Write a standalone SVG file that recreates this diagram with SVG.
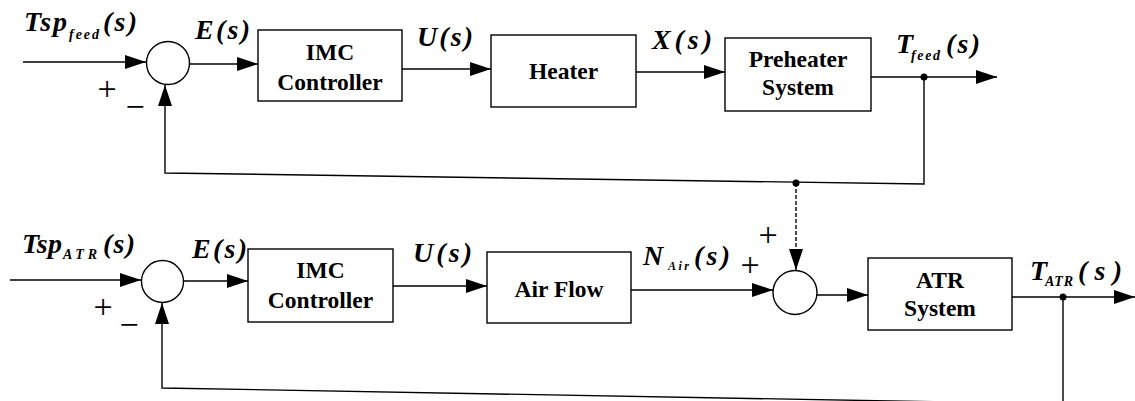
<svg xmlns="http://www.w3.org/2000/svg" width="1135" height="401" viewBox="0 0 1135 401">
<style>
.box{fill:#fff;stroke:#000;stroke-width:1.4}
.sum{fill:#fff;stroke:#000;stroke-width:1.4}
.ln{fill:none;stroke:#000;stroke-width:1.4}
.bt{font-family:'Liberation Serif','DejaVu Serif','Times New Roman',serif;font-weight:bold;font-size:23.5px;text-anchor:middle;fill:#000}
.m{font-family:'Liberation Serif','DejaVu Serif','Times New Roman',serif;font-weight:bold;font-style:italic;font-size:28px;fill:#000}
.sub{font-size:14px}
.sg{font-family:'Liberation Serif','DejaVu Serif','Times New Roman',serif;font-size:34px;font-weight:300;text-anchor:middle;fill:#000}
.dot{fill:#000}
</style>
<defs>
<marker id="ah" markerUnits="userSpaceOnUse" markerWidth="21" markerHeight="14" refX="21" refY="7" orient="auto">
<path d="M0,0 L21,7 L0,14 z" fill="#000"/>
</marker>
</defs>
<rect width="1135" height="401" fill="#fff"/>

<g id="connectors">
<line class="ln" x1="23" y1="62" x2="146" y2="62" marker-end="url(#ah)"/>
<line class="ln" x1="190" y1="64" x2="258" y2="64" marker-end="url(#ah)"/>
<line class="ln" x1="402" y1="69" x2="491" y2="69" marker-end="url(#ah)"/>
<line class="ln" x1="636" y1="72" x2="725" y2="72" marker-end="url(#ah)"/>
<line class="ln" x1="871" y1="77" x2="997" y2="77" marker-end="url(#ah)"/>
<polyline class="ln" points="924,77 924,184 165,173 165,85" marker-end="url(#ah)"/>
<line class="ln" x1="796" y1="183" x2="796" y2="270" stroke-dasharray="4 2" marker-end="url(#ah)"/>
<line class="ln" x1="10" y1="280" x2="141" y2="280" marker-end="url(#ah)"/>
<line class="ln" x1="183" y1="281" x2="248" y2="281" marker-end="url(#ah)"/>
<line class="ln" x1="393" y1="286" x2="487" y2="286" marker-end="url(#ah)"/>
<line class="ln" x1="631" y1="290" x2="773" y2="290" marker-end="url(#ah)"/>
<line class="ln" x1="817" y1="295" x2="868" y2="295" marker-end="url(#ah)"/>
<line class="ln" x1="1012" y1="297" x2="1135" y2="297" marker-end="url(#ah)"/>
<polyline class="ln" points="1063,297 1063,404 162,388 162,303" marker-end="url(#ah)"/>
<circle class="dot" cx="924" cy="77" r="3.5"/>
<circle class="dot" cx="796" cy="183" r="3.5"/>
<circle class="dot" cx="1063" cy="297" r="3.5"/>
</g>

<g id="sum1"><circle class="sum" cx="168" cy="63" r="21.5"/></g>
<g id="imc1"><rect class="box" x="258" y="30" width="144" height="71"/>
<text class="bt" x="330" y="60">IMC</text><text class="bt" x="330" y="90">Controller</text></g>
<g id="heater"><rect class="box" x="491" y="35" width="145" height="72"/>
<text class="bt" x="563.5" y="79">Heater</text></g>
<g id="preheater"><rect class="box" x="725" y="38" width="146" height="73"/>
<text class="bt" x="798" y="67">Preheater</text><text class="bt" x="798" y="95">System</text></g>

<g id="sum2"><circle class="sum" cx="162.5" cy="281.5" r="21"/></g>
<g id="imc2"><rect class="box" x="248" y="249" width="145" height="73"/>
<text class="bt" x="320.5" y="278">IMC</text><text class="bt" x="320.5" y="308">Controller</text></g>
<g id="airflow"><rect class="box" x="487" y="252" width="144" height="71"/>
<text class="bt" x="559" y="297">Air Flow</text></g>
<g id="sum3"><circle class="sum" cx="795" cy="292.5" r="22"/></g>
<g id="atr"><rect class="box" x="868" y="258" width="144" height="72"/>
<text class="bt" x="940" y="288">ATR</text><text class="bt" x="940" y="316">System</text></g>

<g id="labels">
<text class="m" x="24" y="31" textLength="43" lengthAdjust="spacing">Tsp</text>
<text class="m sub" x="69" y="39" textLength="30" lengthAdjust="spacing">feed</text>
<text class="m" x="103" y="31" textLength="34" lengthAdjust="spacing">(s)</text>
<text class="m" x="195" y="39" textLength="55" lengthAdjust="spacing">E(s)</text>
<text class="m" x="417" y="46" textLength="56" lengthAdjust="spacing">U(s)</text>
<text class="m" x="652" y="49" textLength="60" lengthAdjust="spacing">X(s)</text>
<text class="m" x="896" y="53">T</text>
<text class="m sub" x="911" y="60" textLength="29" lengthAdjust="spacing">feed</text>
<text class="m" x="946" y="53" textLength="34" lengthAdjust="spacing">(s)</text>

<text class="m" x="22" y="253" textLength="40" lengthAdjust="spacing">Tsp</text>
<text class="m sub" x="63" y="259" textLength="34" lengthAdjust="spacing">ATR</text>
<text class="m" x="103" y="253" textLength="32" lengthAdjust="spacing">(s)</text>
<text class="m" x="192" y="258" textLength="55" lengthAdjust="spacing">E(s)</text>
<text class="m" x="413" y="262" textLength="59" lengthAdjust="spacing">U(s)</text>
<text class="m" x="643" y="265">N</text>
<text class="m sub" x="668" y="270" textLength="21" lengthAdjust="spacing" style="font-size:12px">Air</text>
<text class="m" x="694" y="265" textLength="36" lengthAdjust="spacing">(s)</text>
<text class="m" x="1030" y="280">T</text>
<text class="m sub" x="1045" y="286" textLength="28" lengthAdjust="spacing">ATR</text>
<text class="m" x="1078" y="280" textLength="44" lengthAdjust="spacing">(s)</text>

<text class="sg" x="107" y="100">+</text>
<text class="sg" x="135" y="118">−</text>
<text class="sg" x="103" y="318">+</text>
<text class="sg" x="129" y="336">−</text>
<text class="sg" x="768" y="246">+</text>
<text class="sg" x="750" y="276">+</text>
</g>
</svg>
